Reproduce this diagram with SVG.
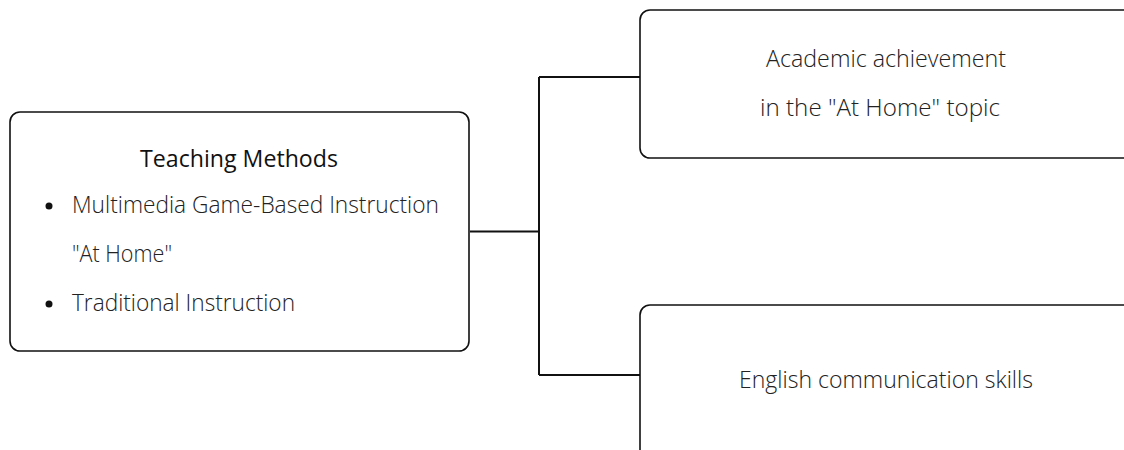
<svg xmlns="http://www.w3.org/2000/svg" width="1124" height="450" viewBox="0 0 1124 450">
<style>
.box{fill:#fff;stroke:#111;stroke-width:1.6}
.t{font-family:"Open Sans","Noto Sans",sans-serif;font-size:23px;font-weight:300;fill:#222}
.h{font-weight:500;fill:#111}
.c{fill:none;stroke:#111;stroke-width:2}
</style>
<rect width="1124" height="450" fill="#fff"/>
<g id="connectors">
<path class="c" d="M470 231.5 H539 M539 77 V375 M539 77 H640 M539 375 H640"/>
</g>
<g id="teaching-methods">
<rect class="box" x="10" y="112" width="459" height="239" rx="10"/>
<text class="t h" x="239" y="167" text-anchor="middle" textLength="198" lengthAdjust="spacingAndGlyphs">Teaching Methods</text>
<circle cx="49" cy="206" r="3.5" fill="#111"/>
<text class="t" x="72" y="213" textLength="367" lengthAdjust="spacingAndGlyphs">Multimedia Game-Based Instruction</text>
<text class="t" x="72" y="262" textLength="100" lengthAdjust="spacingAndGlyphs">"At Home"</text>
<circle cx="49" cy="304" r="3.5" fill="#111"/>
<text class="t" x="72" y="311" textLength="223" lengthAdjust="spacingAndGlyphs">Traditional Instruction</text>
</g>
<g id="academic-achievement">
<rect class="box" x="640" y="10" width="500" height="148" rx="10"/>
<text class="t" x="886" y="67" text-anchor="middle" textLength="240" lengthAdjust="spacingAndGlyphs">Academic achievement</text>
<text class="t" x="880" y="116" text-anchor="middle" textLength="240" lengthAdjust="spacingAndGlyphs">in the "At Home" topic</text>
</g>
<g id="english-communication">
<rect class="box" x="640" y="305" width="500" height="160" rx="10"/>
<text class="t" x="886" y="388" text-anchor="middle" textLength="294" lengthAdjust="spacingAndGlyphs">English communication skills</text>
</g>
</svg>
